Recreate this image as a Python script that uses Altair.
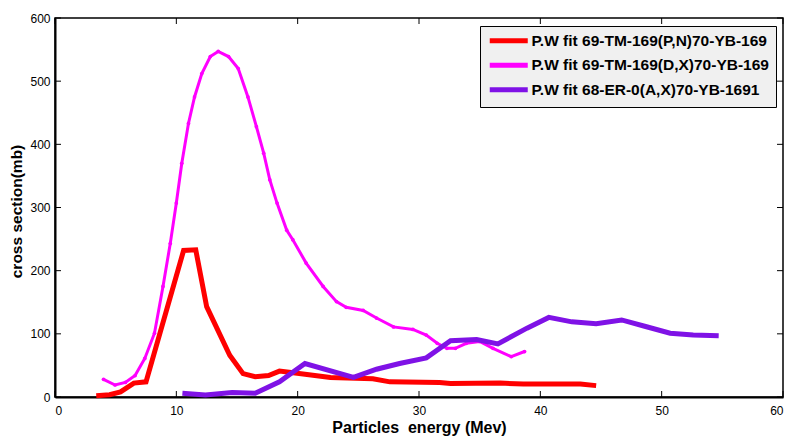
import altair as alt
import pandas as pd

# ---- data ----
red_name = "P.W fit 69-TM-169(P,N)70-YB-169"
mag_name = "P.W fit 69-TM-169(D,X)70-YB-169"
pur_name = "P.W fit 68-ER-0(A,X)70-YB-1691"

red_e = [3.4, 4.5, 5.4, 6.5, 7.5, 10.6, 11.6, 12.5, 14.4, 15.5, 16.5, 17.6, 18.5,
         19.8, 22.7, 26.2, 27.6, 31.7, 32.6, 36.7, 38.6, 43.3, 44.6]
red_v = [2, 3.5, 8, 22, 24, 232, 233, 143, 66, 37, 32, 34, 41,
         38, 31, 29, 24, 23, 21.5, 22, 20.5, 20.5, 18]

mag_e = [4.0, 4.95, 5.8, 6.6, 7.4, 8.2, 8.9, 9.5, 10.0, 10.45, 11.0, 11.5, 12.1,
         12.8, 13.45, 14.3, 15.1, 15.9, 16.6, 17.2, 17.7, 18.3, 19.1, 19.6, 20.7,
         22.1, 23.2, 24.0, 25.4, 26.5, 27.9, 29.5, 30.6, 31.5, 32.3, 33.0, 33.9,
         35.0, 36.1, 37.6, 38.7]
mag_v = [28, 19, 23, 34, 61, 101, 175, 243, 307, 370, 433, 475, 512,
         539, 547, 539, 520, 475, 428, 386, 344, 307, 264, 249, 212,
         175, 151, 142, 137, 125, 111, 107, 98, 85, 77, 77, 85,
         88, 77, 64, 72]

pur_e = [10.5, 12.4, 14.6, 16.5, 18.5, 20.6, 24.6, 26.5, 28.4, 30.6, 32.6, 34.75,
         36.5, 38.9, 40.7, 42.6, 44.6, 46.7, 48.6, 50.7, 52.6, 54.7]
pur_v = [6, 3, 7, 6, 24, 53, 31, 44, 53, 62, 89, 91,
         84, 109, 126, 119, 116, 122, 112, 101, 98, 97]

x_ticks = [0, 10, 20, 30, 40, 50, 60]
y_ticks = [0, 100, 200, 300, 400, 500, 600]

series_names = [red_name, mag_name, pur_name]
series_colors = ["#FF0000", "#FF00FF", "#7F12E6"]

W, H = 728, 379
FONT = "Liberation Sans"

df = pd.concat([
    pd.DataFrame({"E": red_e, "cs": red_v, "series": red_name}),
    pd.DataFrame({"E": mag_e, "cs": mag_v, "series": mag_name}),
    pd.DataFrame({"E": pur_e, "cs": pur_v, "series": pur_name}),
], ignore_index=True)

xscale = alt.Scale(domain=[0, 60], nice=False, zero=False)
yscale = alt.Scale(domain=[0, 600], nice=False)

color = alt.Color(
    "series:N",
    scale=alt.Scale(domain=series_names, range=series_colors),
    legend=alt.Legend(
        title=None, orient="none", legendX=425, legendY=8,
        symbolType="M-1,0L6.6,0", symbolStrokeWidth=5, symbolSize=100,
        labelFont=FONT, labelFontSize=15.5, labelFontWeight="bold",
        labelColor="black", labelOffset=29, rowPadding=3.5,
        padding=7, fillColor="#F0F0F0", strokeColor="black",
        labelLimit=400,
    ),
)

xenc = alt.X(
    "E:Q", scale=xscale,
    axis=alt.Axis(values=x_ticks, title="Particles\u00a0 energy (Mev)", grid=False,
                  ticks=False, labelPadding=8, titleY=35,
                  titleBaseline="alphabetic"),
)
yenc = alt.Y(
    "cs:Q", scale=yscale,
    axis=alt.Axis(values=y_ticks, title="cross section(mb)", grid=False,
                  ticks=False, labelPadding=5, titleX=-34, titleY=193,
                  titleFontSize=15.5, titleBaseline="alphabetic"),
)

base = alt.Chart(df)
red = base.transform_filter(alt.datum.series == red_name).mark_line(
    strokeWidth=5).encode(x=xenc, y=yenc, color=color, order="E:Q")
mag = base.transform_filter(alt.datum.series == mag_name).mark_line(
    strokeWidth=3).encode(x=xenc, y=yenc, color=color, order="E:Q")
mag_pts = base.transform_filter(alt.datum.series == mag_name).mark_circle(
    size=14, opacity=1, color="#FF00FF").encode(x="E:Q", y="cs:Q")
pur = base.transform_filter(alt.datum.series == pur_name).mark_line(
    strokeWidth=5).encode(x=xenc, y=yenc, color=color, order="E:Q")

xt = pd.DataFrame({"t": x_ticks})
yt = pd.DataFrame({"t": y_ticks})
TL = 6
tick_bottom = alt.Chart(xt).mark_rule(color="black", strokeWidth=1).encode(
    x="t:Q", y=alt.value(H), y2=alt.value(H - TL))
tick_top = alt.Chart(xt).mark_rule(color="black", strokeWidth=1).encode(
    x="t:Q", y=alt.value(0), y2=alt.value(TL))
tick_left = alt.Chart(yt).mark_rule(color="black", strokeWidth=1).encode(
    y="t:Q", x=alt.value(0), x2=alt.value(TL))
tick_right = alt.Chart(yt).mark_rule(color="black", strokeWidth=1).encode(
    y="t:Q", x=alt.value(W - TL), x2=alt.value(W))

chart = alt.layer(
    tick_bottom, tick_top, tick_left, tick_right, red, mag, mag_pts, pur
).properties(
    width=W, height=H,
    autosize=alt.AutoSizeParams(type="none"),
    padding={"left": 47, "top": 10, "right": 3, "bottom": 40},
).configure_view(
    stroke="black", strokeWidth=1.5
).configure_axis(
    domainColor="black", domainWidth=2,
    labelFont=FONT, labelFontSize=12, labelColor="black",
    titleFont=FONT, titleFontSize=16, titleFontWeight="bold", titleColor="black",
).resolve_scale(color="shared")

chart.save("out.html", embed_options={"renderer": "svg", "actions": False})
